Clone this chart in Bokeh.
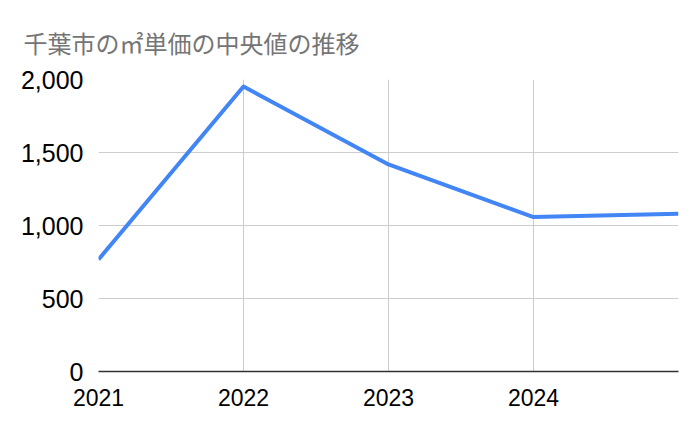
from bokeh.plotting import figure
from bokeh.models import Range1d, FixedTicker, NumeralTickFormatter
from bokeh.embed import file_html
from bokeh.resources import INLINE

years = [2021, 2022, 2023, 2024, 2025]
values = [767, 1952, 1418, 1058, 1080]
y_ticks = [0, 500, 1000, 1500, 2000]
x_ticks = [2021, 2022, 2023, 2024]
title_text = "千葉市の㎡単価の中央値の推移"

p = figure(width=700, height=433, output_backend="svg", toolbar_location=None,
           x_range=Range1d(2021, 2025), y_range=Range1d(0, 2000),
           min_border_left=98, min_border_right=22, min_border_top=79, min_border_bottom=62)

p.title.text = title_text
p.title.text_font = "Noto Sans CJK JP"
p.title.text_font_size = "24px"
p.title.text_font_style = "normal"
p.title.text_color = "#757575"
p.title.align = "left"
p.title.offset = -75
p.title.standoff = 40

p.outline_line_color = None
p.background_fill_color = "white"
p.border_fill_color = "white"

p.line(years, values, line_color="#4285F4", line_width=4, line_join="round")

# y axis
p.yaxis.ticker = FixedTicker(ticks=y_ticks)
p.yaxis.formatter = NumeralTickFormatter(format="0,0")
p.yaxis.axis_line_color = None
p.yaxis.major_tick_line_color = None
p.yaxis.minor_tick_line_color = None
p.yaxis.major_label_text_font = "Liberation Sans"
p.yaxis.major_label_text_font_size = "25px"
p.yaxis.major_label_text_color = "#000000"
p.yaxis.major_label_standoff = 9

# x axis
p.xaxis.ticker = FixedTicker(ticks=x_ticks)
p.xaxis.axis_line_color = "#333333"
p.xaxis.axis_line_width = 1.5
p.xaxis.major_tick_line_color = None
p.xaxis.minor_tick_line_color = None
p.xaxis.major_label_text_font = "Liberation Sans"
p.xaxis.major_label_text_font_size = "23px"
p.xaxis.major_label_text_color = "#000000"
p.xaxis.major_label_standoff = 11

p.xgrid.ticker = FixedTicker(ticks=years)
p.xgrid.grid_line_color = "#cccccc"
p.ygrid.grid_line_color = "#cccccc"

open("out.html", "w").write(file_html(p, INLINE))
